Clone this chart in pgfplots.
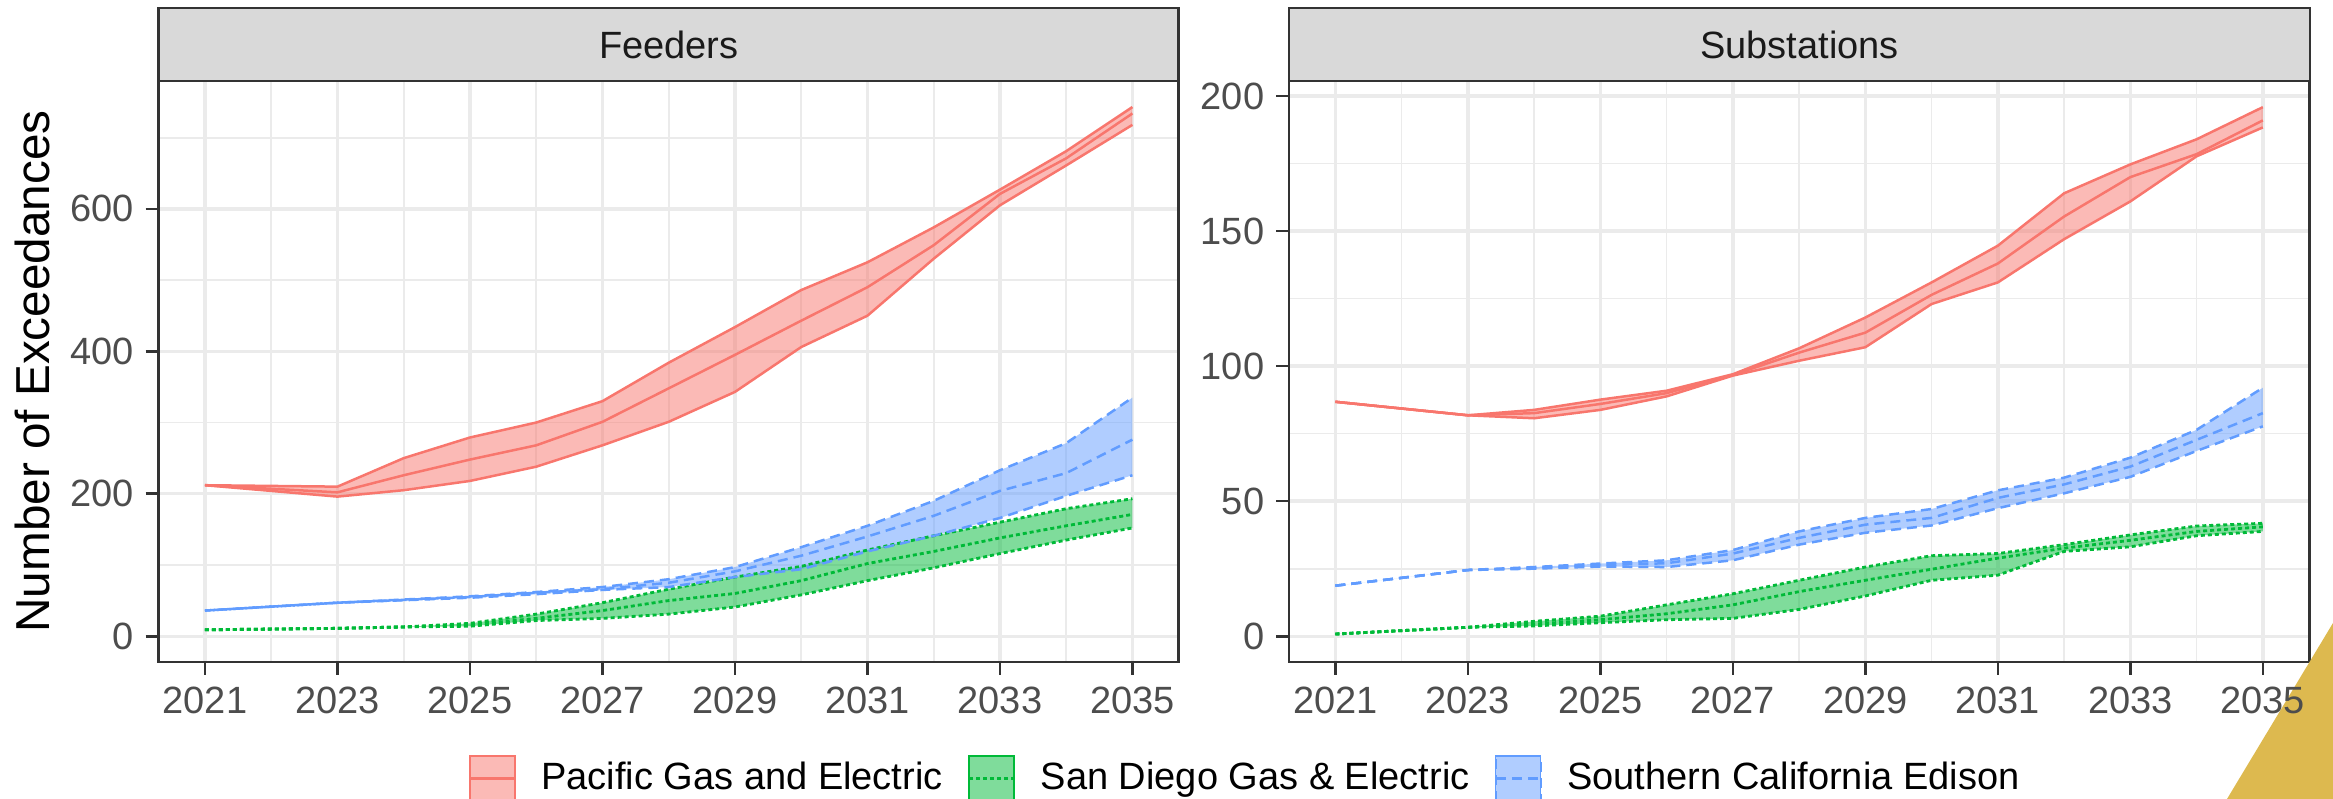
\documentclass[border=0pt]{standalone}
\usepackage{pgfplots}
\usepackage{pgfplotstable}
\pgfplotsset{compat=1.18}
\usepgfplotslibrary{fillbetween}
\usepackage{fontspec}
\setmainfont{Liberation Sans}

\definecolor{pge}{HTML}{F8766D}
\definecolor{sdge}{HTML}{00BA38}
\definecolor{sce}{HTML}{619CFF}
\definecolor{gridc}{HTML}{EBEBEB}
\definecolor{framec}{HTML}{333333}
\definecolor{stripbg}{HTML}{D9D9D9}
\definecolor{ticktxt}{HTML}{4D4D4D}
\definecolor{stript}{HTML}{1A1A1A}
\definecolor{gold}{HTML}{DDB94F}

% Feeders
\pgfplotstableread{
year lo mid hi
2021 212 212 212
2023 196 202 210
2024 205 226 250
2025 218 248 279
2026 238 268 300
2027 268 301 330
2028 301 348 384
2029 343 395 434
2030 406 443 486
2031 450 490 525
2032 530 549 574
2033 605 621 627
2034 661 671 681
2035 718 734 743
}\fpge
\pgfplotstableread{
year lo mid hi
2021 9 9 9
2023 11 11 11
2024 13 13 13
2025 14 16 18
2026 22 25 31
2027 25 36 47
2028 31 50 66
2029 41 60 83
2030 58 78 98
2031 78 102 121
2032 96 119 141
2033 116 138 160
2034 135 155 179
2035 152 171 193
}\fsdge
\pgfplotstableread{
year lo mid hi
2021 36 36 36
2023 47 47 47
2025 54 55 56
2026 59 61 62
2027 65 66 69
2028 69 75 80
2029 83 91 97
2030 94 113 125
2031 119 140 155
2032 141 169 190
2033 166 204 233
2034 197 229 271
2035 226 276 335
}\fsce
% Substations
\pgfplotstableread{
year lo mid hi
2021 86.8 86.8 86.8
2023 81.8 81.8 81.8
2024 80.7 82.6 83.8
2025 83.8 86 87.6
2026 88.8 90 90.9
2027 96.5 96.7 97
2028 102 105 106.6
2029 107 112.4 118
2030 123 126.4 131
2031 131 138 144.6
2032 147 155.4 164
2033 161 170 174.7
2034 177.7 178.5 184
2035 188.4 191 195.9
}\spge
\pgfplotstableread{
year lo mid hi
2021 0.8 0.8 0.8
2023 3.3 3.3 3.3
2024 3.8 4.5 5.5
2025 5 6.1 7.4
2026 6.1 8.3 11.6
2027 6.6 11.6 15.7
2028 9.9 16.5 20.7
2029 14.9 20.7 25.6
2030 20.7 24.8 29.8
2031 22.6 28.9 30.6
2032 31.4 32.6 33.9
2033 33.1 35.5 37.5
2034 37.2 38.8 40.8
2035 38.8 40.5 41.8
}\ssdge
\pgfplotstableread{
year lo mid hi
2021 18.7 18.7 18.7
2023 24.5 24.5 24.5
2024 25.0 25.3 25.6
2025 25.8 26.4 26.9
2026 25.6 27 28.1
2027 28.1 30.6 31.9
2028 33.9 36.4 38.8
2029 38.3 41.3 43.8
2030 41 43.8 47.1
2031 47.4 51.2 54
2032 52.9 56.2 58.7
2033 59 62.8 66.1
2034 68.6 72.7 76.4
2035 77.7 82.6 92
}\ssce

\tikzset{
  pgeline/.style={color=pge, line width=0.75pt, solid},
  sdgeline/.style={color=sdge, line width=0.85pt, dash pattern=on 1.2pt off 0.9pt},
  sceline/.style={color=sce, line width=0.75pt, dash pattern=on 3pt off 1.8pt},
}
\pgfplotsset{
  facet/.style={
    width=306.06pt, height=174.3pt, scale only axis,
    xmin=2020.3, xmax=2035.7,
    xtick={2021,2023,...,2035}, minor xtick={2022,2024,...,2034},
    grid=both,
    major grid style={gridc, line width=1.0pt},
    minor grid style={gridc, line width=0.5pt},
    axis line style={framec, line width=0.8pt},
    tick align=outside, tick pos=left,
    major tick length=3.9pt, minor tick length=0pt,
    every tick/.style={framec, line width=0.8pt},
    tick label style={font=\fontsize{11.4}{13}\selectfont, text=ticktxt},
    /pgf/number format/assume math mode=true,
    /pgf/number format/1000 sep={},
  },
}

\newcommand{\ribbon}[3]{%
  \addplot[name path=#2hi, draw=none, forget plot] table[x=year,y=hi]{#1};
  \addplot[name path=#2lo, draw=none, forget plot] table[x=year,y=lo]{#1};
  \addplot[fill=#3, fill opacity=0.5, draw=none, forget plot] fill between[of=#2hi and #2lo];
}
\newcommand{\bandlines}[2]{%
  \addplot[#2, forget plot] table[x=year,y=hi]{#1};
  \addplot[#2, forget plot] table[x=year,y=mid]{#1};
  \addplot[#2, forget plot] table[x=year,y=lo]{#1};
}

\begin{document}
\begin{tikzpicture}
\fill[gold] (668.1pt,0pt) -- (699.9pt,52.8pt) -- (699.9pt,0pt) -- cycle;

% strips
\draw[fill=stripbg, draw=framec, line width=0.8pt] (47.58pt,215.4pt) rectangle (353.64pt,237.3pt);
\node[text=stript, font=\fontsize{11.4}{13}\selectfont] at (200.61pt,226.35pt) {Feeders};
\draw[fill=stripbg, draw=framec, line width=0.8pt] (386.7pt,215.4pt) rectangle (693.0pt,237.3pt);
\node[text=stript, font=\fontsize{11.4}{13}\selectfont] at (539.85pt,226.35pt) {Substations};

\begin{axis}[facet, at={(47.58pt,41.1pt)}, anchor=south west,
  ymin=-36.2, ymax=779.6,
  ytick={0,200,400,600}, minor ytick={100,300,500,700},
  ylabel={Number of Exceedances},
  ylabel style={font=\fontsize{14.3}{16}\selectfont, at={(axis description cs:-0.1236,0.5)}, anchor=center},
  legend style={at={(axis description cs:1.0639,-0.2005)}, anchor=center, legend columns=3,
    draw=none, fill=none, font=\fontsize{11.4}{13}\selectfont,
    nodes={inner sep=0pt},
    /tikz/every odd column/.append style={column sep=7.6pt},
    /tikz/every even column/.append style={column sep=7.5pt}},
  legend cell align=left,
]
\ribbon{\fpge}{a}{pge}
\ribbon{\fsdge}{b}{sdge}
\ribbon{\fsce}{c}{sce}
\bandlines{\fpge}{pgeline}
\bandlines{\fsdge}{sdgeline}
\addplot[sceline, dash phase=2.4pt, forget plot] table[x=year,y=hi]{\fsce};
\addplot[sceline, forget plot] table[x=year,y=mid]{\fsce};
\addplot[sceline, dash phase=1.2pt, forget plot] table[x=year,y=lo]{\fsce};
\addlegendimage{legend image code/.code={
  \fill[pge, fill opacity=0.5] (0pt,-6.75pt) rectangle (13.5pt,6.75pt);
  \draw[pgeline] (0pt,-6.75pt) rectangle (13.5pt,6.75pt);
  \draw[pgeline] (0pt,0pt) -- (13.5pt,0pt);}}
\addlegendentry{Pacific Gas and Electric}
\addlegendimage{legend image code/.code={
  \fill[sdge, fill opacity=0.5] (0pt,-6.75pt) rectangle (13.5pt,6.75pt);
  \draw[sdgeline] (0pt,-6.75pt) rectangle (13.5pt,6.75pt);
  \draw[sdgeline] (0pt,0pt) -- (13.5pt,0pt);}}
\addlegendentry{San Diego Gas \& Electric}
\addlegendimage{legend image code/.code={
  \fill[sce, fill opacity=0.5] (0pt,-6.75pt) rectangle (13.5pt,6.75pt);
  \draw[sceline] (0pt,-6.75pt) rectangle (13.5pt,6.75pt);
  \draw[sceline] (0pt,0pt) -- (13.5pt,0pt);}}
\addlegendentry{Southern California Edison}
\end{axis}

\begin{axis}[facet, at={(386.7pt,41.1pt)}, anchor=south west,
  ymin=-9.55, ymax=205.6,
  ytick={0,50,100,150,200}, minor ytick={25,75,125,175},
]
\ribbon{\spge}{d}{pge}
\ribbon{\ssdge}{e}{sdge}
\ribbon{\ssce}{f}{sce}
\bandlines{\spge}{pgeline}
\bandlines{\ssdge}{sdgeline}
\bandlines{\ssce}{sceline}
\end{axis}
\pgfresetboundingbox
\useasboundingbox (0,0) rectangle (699.9pt,239.7pt);
\end{tikzpicture}
\end{document}
